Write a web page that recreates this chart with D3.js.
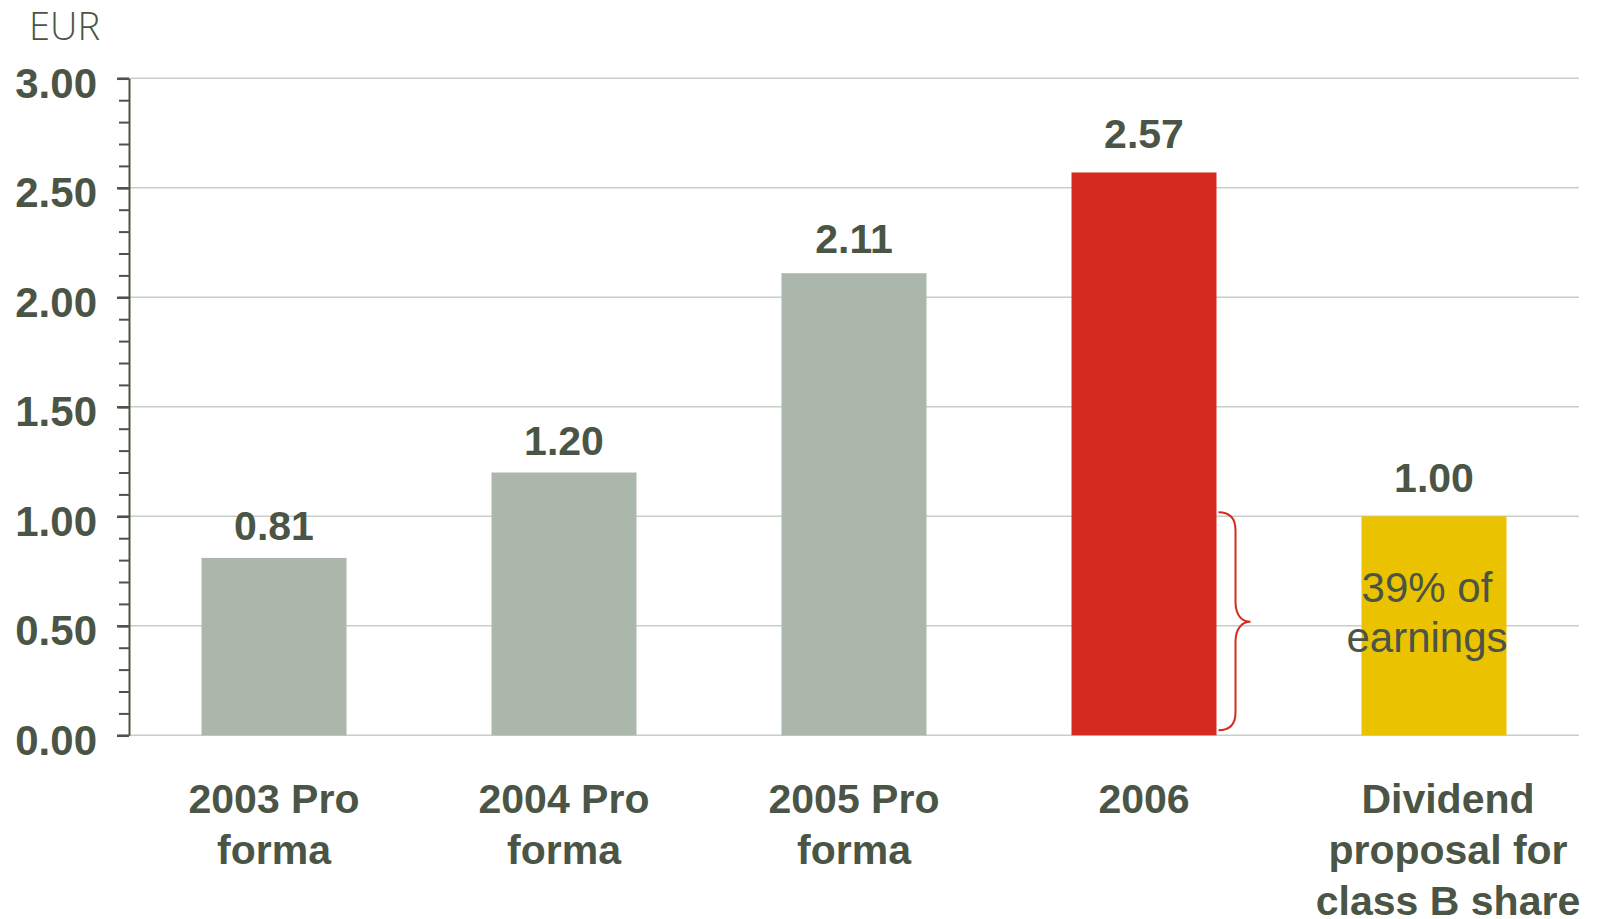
<!DOCTYPE html>
<html>
<head>
<meta charset="utf-8">
<script src="https://cdn.jsdelivr.net/npm/d3@7/dist/d3.min.js"></script>
<style>
  html, body { margin: 0; padding: 0; background: #fff; }
  svg { display: block; }
</style>
</head>
<body>
<svg id="chart" width="1610" height="919"></svg>
<script>
// Earnings per share (EUR) and dividend proposal
const categories = ["2003 Pro forma", "2004 Pro forma", "2005 Pro forma", "2006", "Dividend proposal for class B share"];
const categoryLines = [["2003 Pro", "forma"], ["2004 Pro", "forma"], ["2005 Pro", "forma"], ["2006"], ["Dividend", "proposal for", "class B share"]];
const values = [0.81, 1.20, 2.11, 2.57, 1.00];
const valueLabels = ["0.81", "1.20", "2.11", "2.57", "1.00"];
const barColors = ["#abb7aa", "#abb7aa", "#abb7aa", "#d52b1e", "#ebc200"];
const majorTicks = [0, 0.5, 1.0, 1.5, 2.0, 2.5, 3.0];
const minorTicks = d3.range(0, 31).map(i => i / 10);
const unitLabel = "EUR";
const noteLines = ["39% of", "earnings"];

const ink = "#4a5546";
const grid = "#c7cfc6";
const font = "'Liberation Sans', Arial, Helvetica, sans-serif";

const svg = d3.select("#chart");
const plot = { left: 129, right: 1579, top: 78.3, bottom: 735.3 };

const x = d3.scaleBand().domain(categories).range([plot.left, plot.right]).paddingInner(0.5).paddingOuter(0.25);
const y = d3.scaleLinear().domain([0, 3]).range([plot.bottom, plot.top]);

// horizontal gridlines
svg.append("g")
  .selectAll("line")
  .data(majorTicks)
  .join("line")
  .attr("x1", plot.left).attr("x2", plot.right)
  .attr("y1", d => y(d)).attr("y2", d => y(d))
  .attr("stroke", grid).attr("stroke-width", 1.5);

// bars
svg.append("g")
  .selectAll("rect")
  .data(values)
  .join("rect")
  .attr("x", (d, i) => x(categories[i]))
  .attr("width", x.bandwidth())
  .attr("y", d => y(d))
  .attr("height", d => y(0) - y(d))
  .attr("fill", (d, i) => barColors[i]);

// value labels above the bars
const labelGap = [18, 18, 20, 24, 24];
svg.append("g")
  .selectAll("text")
  .data(values)
  .join("text")
  .attr("x", (d, i) => x(categories[i]) + x.bandwidth() / 2)
  .attr("y", (d, i) => y(d) - labelGap[i])
  .attr("text-anchor", "middle")
  .attr("font-family", font).attr("font-weight", "bold").attr("font-size", 41)
  .attr("fill", ink)
  .text((d, i) => valueLabels[i]);

// minor ticks
const minorAxis = d3.axisLeft(y).tickValues(minorTicks).tickSize(10).tickSizeOuter(0).tickFormat("");
const gMinor = svg.append("g").attr("transform", `translate(${plot.left},0)`).call(minorAxis);
gMinor.select(".domain").remove();
gMinor.selectAll(".tick line").attr("stroke", ink).attr("stroke-width", 2);

// major ticks and labels
const majorAxis = d3.axisLeft(y).tickValues(majorTicks).tickSize(12).tickSizeOuter(0).tickFormat(d3.format(".2f"));
const gMajor = svg.append("g").attr("transform", `translate(${plot.left},0)`).call(majorAxis);
gMajor.select(".domain").attr("stroke", ink).attr("stroke-width", 2);
gMajor.selectAll(".tick line").attr("stroke", ink).attr("stroke-width", 2.5);
gMajor.selectAll(".tick text")
  .attr("x", -32)
  .attr("dy", 19)
  .attr("font-family", font).attr("font-weight", "bold").attr("font-size", 42)
  .attr("fill", ink);

// unit label
svg.append("text")
  .attr("x", 29).attr("y", 40)
  .attr("font-family", "'Open Sans', sans-serif").attr("font-weight", 300).attr("font-size", 39)
  .attr("textLength", 71).attr("lengthAdjust", "spacingAndGlyphs")
  .attr("fill", ink)
  .text(unitLabel);

// category labels
const catOffsets = [0, 0, 0, 0, 14];
const catG = svg.append("g")
  .selectAll("text")
  .data(categories)
  .join("text")
  .attr("text-anchor", "middle")
  .attr("font-family", font).attr("font-weight", "bold").attr("font-size", 41)
  .attr("fill", ink);
catG.each(function (d, i) {
  const cx = x(d) + x.bandwidth() / 2 + catOffsets[i];
  d3.select(this).selectAll("tspan")
    .data(categoryLines[i])
    .join("tspan")
    .attr("x", cx)
    .attr("y", (t, j) => 813 + j * 51)
    .text(t => t);
});

// brace linking 2006 earnings to the dividend
const bx = x("2006") + x.bandwidth() + 2;
const yTop = y(1) - 4, yBot = y(0) - 5, yMid = y(0.5) - 4;
const brace = d3.path();
brace.moveTo(bx, yTop);
brace.bezierCurveTo(bx + 12, yTop, bx + 17, yTop + 6, bx + 17, yTop + 18);
brace.lineTo(bx + 17, yMid - 20);
brace.bezierCurveTo(bx + 17, yMid - 6, bx + 24, yMid, bx + 32, yMid);
brace.bezierCurveTo(bx + 24, yMid, bx + 17, yMid + 6, bx + 17, yMid + 20);
brace.lineTo(bx + 17, yBot - 18);
brace.bezierCurveTo(bx + 17, yBot - 6, bx + 12, yBot, bx, yBot);
svg.append("path")
  .attr("d", brace.toString())
  .attr("fill", "none")
  .attr("stroke", "#d52b1e")
  .attr("stroke-width", 2);

// note inside the dividend bar
const noteX = x(categories[4]) + x.bandwidth() / 2 - 7;
svg.append("text")
  .attr("text-anchor", "middle")
  .attr("font-family", font).attr("font-size", 42)
  .attr("fill", ink)
  .selectAll("tspan")
  .data(noteLines)
  .join("tspan")
  .attr("x", noteX)
  .attr("y", (t, j) => 601.7 + j * 50.5)
  .text(t => t);
</script>
</body>
</html>
